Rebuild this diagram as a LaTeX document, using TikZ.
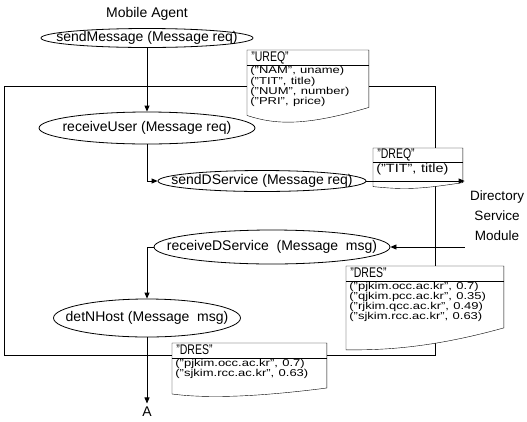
\documentclass[tikz,border=0pt]{standalone}
\usepackage{fontspec}
\usepackage{graphicx}
\setmainfont{Liberation Sans}
\usetikzlibrary{arrows.meta,shapes.geometric,calc,backgrounds}
\tikzset{>={Triangle[length=6pt,width=5pt]}}

% label of a process: the ellipse gets its size from the style only
\newcommand{\lbl}[1]{\makebox[0pt]{#1}}
% header and rows of a message box, set wide or narrow as in the scan
\newcommand{\hdtext}[1]{\scalebox{0.75}[1]{#1}}
\newcommand{\rowtext}[2][1.3]{\scalebox{#1}[1]{\begin{tabular}{@{}l@{}}#2\end{tabular}}}

% frame of a message box: header line and wavy bottom
\newcommand{\docframe}[5]{%
  \filldraw[fill=white] (#1.north west) -- (#1.north east) -- ($(#2.south east)+(0,#3)$)
    .. controls ($(#2.south)+(0,#5)$) and ($(#2.south west)+(30,#5)$) .. ($(#2.south west)+(0,#4)$) -- cycle;
  \draw (#1.south west) -- (#1.south east);}

\tikzset{
  proc/.style args={#1/#2}{ellipse, draw, inner sep=0pt, minimum width=#1, minimum height=#2},
  hdr/.style={anchor=north west, inner xsep=4pt, inner ysep=1pt, text height=10pt, text depth=2.5pt,
    align=left, font=\fontsize{14}{14}\selectfont},
  rows/.style={anchor=north west, inner xsep=3pt, inner ysep=1pt, align=left,
    font=\fontsize{10}{9}\selectfont},
}

\begin{document}
\begin{tikzpicture}[x=1pt, y=-1pt, line width=0.8pt, font=\fontsize{14}{15}\selectfont]
  \useasboundingbox (0,0) rectangle (527,421);

  \coordinate (nw) at (4,86);
  \coordinate (ne) at (435,86);
  \coordinate (se) at (435,355);
  \coordinate (sw) at (4,355);

  \node (agent) at (147,14) {Mobile Agent};
  \node[proc=212pt/19pt] (sendmsg) at (147,38) {\lbl{sendMessage (Message req)}};
  \node[proc=216pt/32pt] (recvuser) at (147,128) {\lbl{receiveUser (Message req)}};
  \node[proc=208pt/21pt] (senddsv) at (262,181) {\lbl{sendDService (Message req)}};
  \node[proc=236pt/34pt] (recvdsv) at (272,247) {\lbl{receiveDService~~(Message~~msg)}};
  \node[proc=187pt/38pt] (detnhost) at (147,318) {\lbl{detNHost (Message~~msg)}};
  \node (a) at (147,412) {A};
  \node[align=center, inner xsep=5pt, font=\fontsize{13.5}{20}\selectfont] (dsm) at (497,216)
    {Directory\\Service\\Module};

  % message boxes
  \node[hdr, text width=113pt] (ureqh) at (247,50) {\hdtext{"UREQ"}};
  \node[rows, text width=115pt, font=\fontsize{10}{10.3}\selectfont] (ureq) at (ureqh.south west)
    {\rowtext{("NAM", uname)\\("TIT", title)\\("NUM", number)\\("PRI", price)}};

  \node[hdr, text width=81pt, text height=9pt, text depth=2pt] (dreqh) at (373,148) {\hdtext{"DREQ"}};
  \node[rows, text width=83pt, inner ysep=1.5pt, font=\fontsize{12}{11}\selectfont] (dreq)
    at (dreqh.south west) {\rowtext[1.2]{("TIT", title)}};

  \node[hdr, text width=149pt] (dres1h) at (346,266) {\hdtext{"DRES"}};
  \node[rows, text width=151pt] (dres1) at (dres1h.south west)
    {\rowtext{("pjkim.occ.ac.kr", 0.7)\\("qjkim.pcc.ac.kr", 0.35)\\("rjkim.qcc.ac.kr", 0.49)\\("sjkim.rcc.ac.kr", 0.63)}};

  \node[hdr, text width=146pt] (dres2h) at (172,343) {\hdtext{"DRES"}};
  \node[rows, text width=148pt] (dres2) at (dres2h.south west)
    {\rowtext{("pjkim.occ.ac.kr", 0.7)\\("sjkim.rcc.ac.kr", 0.63)}};

  \draw[->] (sendmsg) -- (recvuser);
  \draw[->] (recvuser.south) |- (senddsv.west);
  \draw[->] (senddsv.east) -- (senddsv.east -| dsm.west);
  \draw[->] (dsm.west |- recvdsv.east) -- (recvdsv.east);
  \draw[->] (recvdsv.west) -| (detnhost.north);
  \draw[->] (detnhost.south) -- (a.north);

  \begin{scope}[on background layer]
    \draw (nw) -- (ne) -- (se) -- (sw) -- cycle;
    \docframe{ureqh}{ureq}{-2}{6}{16}
    \docframe{dreqh}{dreq}{5}{9}{12}
    \docframe{dres1h}{dres1}{4}{26}{26}
    \docframe{dres2h}{dres2}{7}{13}{17}
  \end{scope}
\end{tikzpicture}
\end{document}
